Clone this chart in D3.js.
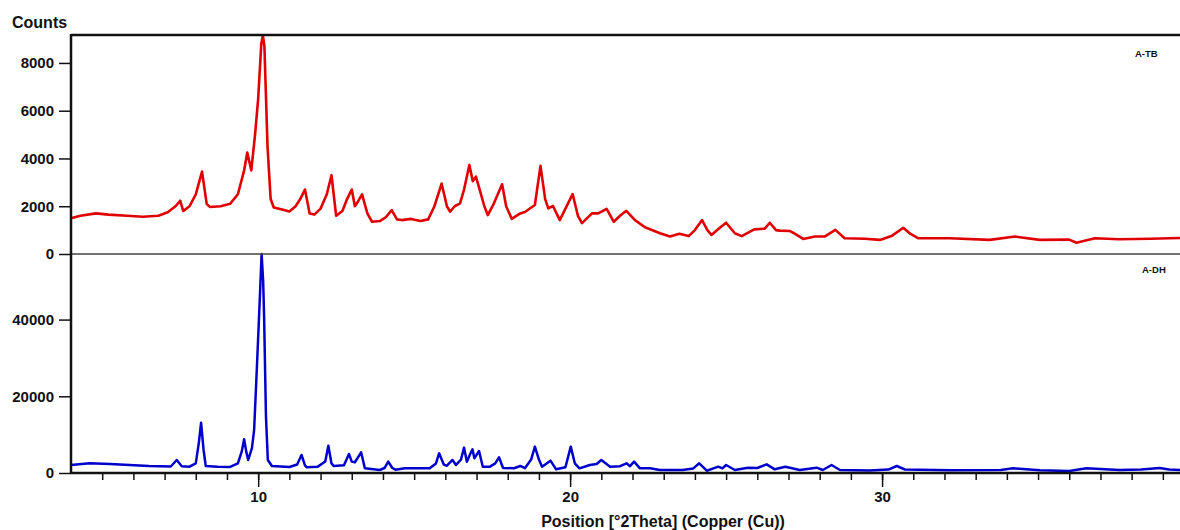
<!DOCTYPE html>
<html>
<head>
<meta charset="utf-8">
<script src="https://cdn.jsdelivr.net/npm/d3@7"></script>
<style>
  body { margin: 0; background: #fff; }
  text { font-family: "Liberation Sans", Arial, sans-serif; font-weight: bold; fill: #111; }
</style>
</head>
<body>
<div id="chart"></div>
<script>
// ---- data: [2theta, counts] ----
const tbPattern = [
  [4.0,1500],[4.3,1600],[4.8,1700],[5.2,1650],[5.8,1600],[6.3,1560],[6.8,1600],[7.1,1750],[7.35,2000],[7.5,2230],
  [7.6,1800],[7.8,2000],[8.0,2500],[8.2,3450],[8.35,2100],[8.45,1970],[8.8,2000],[9.1,2100],[9.35,2500],[9.55,3500],
  [9.65,4250],[9.78,3500],[9.9,5000],[10.0,6500],[10.1,8800],[10.15,9150],[10.2,8700],[10.3,4500],[10.4,2300],[10.5,1950],
  [10.8,1850],[11.0,1780],[11.2,2000],[11.35,2300],[11.5,2700],[11.65,1700],[11.8,1650],[12.0,1900],[12.2,2500],[12.35,3300],
  [12.5,1600],[12.7,1800],[12.85,2300],[13.0,2700],[13.1,2000],[13.2,2200],[13.33,2500],[13.5,1700],[13.65,1350],[13.9,1380],
  [14.1,1550],[14.28,1840],[14.45,1450],[14.6,1420],[14.9,1470],[15.2,1380],[15.45,1450],[15.65,2000],[15.88,2950],[16.05,2000],
  [16.15,1770],[16.3,2000],[16.47,2120],[16.6,2700],[16.77,3730],[16.88,3050],[16.98,3240],[17.1,2700],[17.25,2000],[17.36,1630],
  [17.55,2100],[17.82,2920],[17.95,2000],[18.13,1470],[18.4,1700],[18.55,1760],[18.87,2050],[19.05,3690],[19.2,2300],[19.3,1910],
  [19.45,2010],[19.67,1420],[19.85,1900],[20.08,2510],[20.25,1600],[20.38,1290],[20.7,1700],[20.9,1700],[21.17,1890],[21.4,1350],
  [21.6,1600],[21.8,1810],[22.08,1420],[22.4,1120],[22.88,870],[23.2,730],[23.5,850],[23.8,750],[24.0,1000],[24.23,1420],
  [24.4,1000],[24.53,800],[24.8,1100],[25.0,1310],[25.28,870],[25.5,750],[25.9,1030],[26.24,1060],[26.4,1310],[26.6,1000],
  [26.72,980],[27.05,960],[27.2,850],[27.47,630],[27.85,730],[28.17,740],[28.5,1010],[28.8,660],[29.45,640],[29.93,590],
  [30.3,750],[30.68,1100],[30.9,850],[31.15,660],[32.17,660],[33.45,590],[34.26,730],[35.06,590],[36.0,600],[36.23,470],
  [36.82,660],[37.6,620],[38.6,640],[39.22,660],[39.55,670]
];
const dhPattern = [
  [4.0,2090],[4.6,2530],[5.25,2350],[6.5,1830],[7.2,1700],[7.39,3390],[7.55,1750],[7.8,1650],[8.0,2500],[8.1,8000],
  [8.17,13100],[8.25,6000],[8.32,1830],[8.7,1600],[9.1,1570],[9.35,2530],[9.47,5500],[9.55,8790],[9.62,5500],[9.68,3390],
  [9.8,6500],[9.87,11200],[9.96,27700],[10.05,45000],[10.11,57100],[10.16,50000],[10.19,40800],[10.25,14700],[10.31,3390],[10.44,1830],
  [11.0,1570],[11.25,2200],[11.39,4700],[11.5,2000],[11.56,1490],[11.9,1600],[12.15,3000],[12.25,7130],[12.35,2500],[12.42,1830],
  [12.75,2000],[12.91,4960],[13.0,2960],[13.1,2800],[13.3,5400],[13.42,1220],[13.9,780],[14.05,1300],[14.17,2960],[14.3,1300],
  [14.4,860],[14.7,1220],[15.5,1220],[15.7,2500],[15.8,5130],[15.95,2200],[16.05,1900],[16.23,3390],[16.34,2090],[16.5,3500],
  [16.6,6610],[16.69,2960],[16.8,5000],[16.87,6180],[16.93,3830],[17.08,5740],[17.2,1650],[17.43,1650],[17.6,2500],[17.72,4090],
  [17.85,1300],[18.2,1250],[18.4,1830],[18.55,1250],[18.75,3500],[18.87,6870],[19.0,3500],[19.1,1650],[19.37,3210],[19.55,960],
  [19.85,1500],[20.02,6870],[20.15,2530],[20.3,1220],[20.63,2090],[20.85,2350],[21.0,3390],[21.28,1650],[21.6,1780],[21.81,2530],
  [21.92,1780],[22.05,2960],[22.24,1220],[22.56,1220],[22.88,780],[23.6,780],[23.95,1200],[24.14,2530],[24.38,600],[24.75,1650],
  [24.88,1200],[25.0,2090],[25.28,780],[25.7,1390],[26.0,1300],[26.3,2260],[26.56,960],[26.9,1650],[27.36,780],[27.9,1390],
  [28.1,780],[28.38,2090],[28.65,780],[29.6,650],[30.2,900],[30.47,1830],[30.73,910],[32.2,700],[33.8,780],[34.2,1220],
  [35.06,700],[36.0,520],[36.55,1220],[37.6,780],[38.3,900],[38.9,1300],[39.2,900],[39.55,780]
];
const tbTicks = [0, 2000, 4000, 6000, 8000];
const dhTicks = [0, 20000, 40000];
const minorTicks = d3.range(5, 40);
const majorTicks = [10, 20, 30];

const width = 1180, height = 530;
const plotLeft = 71, plotRight = 1180, plotTop = 35, plotMid = 254, plotBottom = 473;

const svg = d3.select("#chart").append("svg")
    .attr("width", width)
    .attr("height", height);

const x = d3.scaleLinear().domain([4, 39.55]).range([plotLeft, plotRight]);
const yTop = d3.scaleLinear().domain([0, 9170]).range([plotMid, plotTop]);
const yBot = d3.scaleLinear().domain([0, 57100]).range([plotBottom, plotMid]);

// traces
const lineTop = d3.line().x(d => x(d[0])).y(d => yTop(d[1]));
const lineBot = d3.line().x(d => x(d[0])).y(d => yBot(d[1]));

svg.append("path")
    .datum(tbPattern)
    .attr("d", lineTop)
    .attr("fill", "none")
    .attr("stroke", "#e00000")
    .attr("stroke-width", 2.6)
    .attr("stroke-linejoin", "round");

svg.append("path")
    .datum(dhPattern)
    .attr("d", lineBot)
    .attr("fill", "none")
    .attr("stroke", "#0000cc")
    .attr("stroke-width", 2.5)
    .attr("stroke-linejoin", "round");

// frame lines
svg.append("line").attr("x1", plotLeft).attr("x2", plotRight).attr("y1", plotTop).attr("y2", plotTop)
    .attr("stroke", "#111").attr("stroke-width", 2.5);
svg.append("line").attr("x1", plotLeft).attr("x2", plotRight).attr("y1", plotMid).attr("y2", plotMid)
    .attr("stroke", "#444").attr("stroke-width", 1.5);

// y axes
const yTopAxis = svg.append("g")
    .attr("transform", `translate(${plotLeft},0)`)
    .call(d3.axisLeft(yTop).tickValues(tbTicks).tickSize(12).tickPadding(5).tickFormat(d3.format("d")));
const yBotAxis = svg.append("g")
    .attr("transform", `translate(${plotLeft},0)`)
    .call(d3.axisLeft(yBot).tickValues(dhTicks).tickSize(12).tickPadding(5).tickFormat(d3.format("d")));
[yTopAxis, yBotAxis].forEach(a => {
    a.select(".domain").remove();
    a.selectAll("line").attr("stroke", "#111").attr("stroke-width", 1.5);
    a.selectAll("text").attr("font-size", "15px").attr("font-family", null).attr("fill", "#111");
});

// x axis
const xMinor = svg.append("g")
    .attr("transform", `translate(0,${plotBottom})`)
    .call(d3.axisBottom(x).tickValues(minorTicks).tickSize(7).tickFormat(""));
const xMajor = svg.append("g")
    .attr("transform", `translate(0,${plotBottom})`)
    .call(d3.axisBottom(x).tickValues(majorTicks).tickSize(14).tickPadding(4));
[xMinor, xMajor].forEach(a => {
    a.select(".domain").remove();
    a.selectAll("line").attr("stroke", "#111").attr("stroke-width", 1.5);
    a.selectAll("text").attr("font-size", "15px").attr("font-family", null).attr("fill", "#111");
});

svg.append("line").attr("x1", plotLeft).attr("x2", plotLeft).attr("y1", plotTop - 1).attr("y2", plotBottom + 1)
    .attr("stroke", "#111").attr("stroke-width", 2.5);
svg.append("line").attr("x1", plotLeft).attr("x2", plotRight).attr("y1", plotBottom).attr("y2", plotBottom)
    .attr("stroke", "#111").attr("stroke-width", 2.5);

// labels
svg.append("text").attr("x", 12).attr("y", 28).attr("font-size", "16px").text("Counts");
svg.append("text").attr("x", 663).attr("y", 527).attr("text-anchor", "middle")
    .attr("font-size", "16px").text("Position [°2Theta] (Copper (Cu))");
svg.append("text").attr("x", 1135).attr("y", 57).attr("font-size", "9.5px").text("A-TB");
svg.append("text").attr("x", 1142).attr("y", 273).attr("font-size", "9.5px").text("A-DH");
</script>
</body>
</html>
